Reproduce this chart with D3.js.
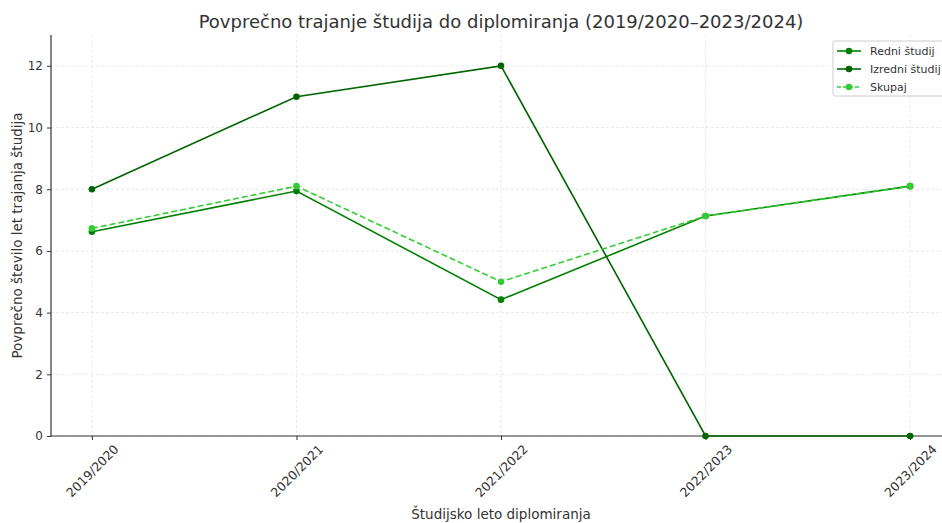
<!DOCTYPE html>
<html>
<head>
<meta charset="utf-8">
<script src="https://cdn.jsdelivr.net/npm/d3@7"></script>
<style>
  body { margin: 0; background: #fff; }
  text { font-family: "DejaVu Sans", sans-serif; fill: #333; }
</style>
</head>
<body>
<svg id="chart"></svg>
<script>
const years = ["2019/2020", "2020/2021", "2021/2022", "2022/2023", "2023/2024"];
const redni = [6.62, 7.94, 4.42, 7.13, 8.1];
const izredni = [8, 11, 12, 0, 0];
const skupaj = [6.73, 8.1, 5.0, 7.13, 8.1];
const yTicks = [0, 2, 4, 6, 8, 10, 12];

const width = 942, height = 523;
const marginLeft = 51, marginTop = 35, marginBottom = 87, plotRight = 951;

const svg = d3.select('#chart')
  .attr('width', width)
  .attr('height', height);

const x = d3.scaleLinear().domain([-0.2, 4.2]).range([marginLeft, plotRight]);
const y = d3.scaleLinear().domain([0, 13]).range([height - marginBottom, marginTop]);

// grid
svg.append('g').selectAll('line').data(yTicks).join('line')
  .attr('x1', marginLeft).attr('x2', plotRight)
  .attr('y1', d => y(d)).attr('y2', d => y(d))
  .style('stroke', '#e0e0e0').style('stroke-dasharray', '3,2').style('stroke-width', 0.7);
svg.append('g').selectAll('line').data(years).join('line')
  .attr('x1', (d, i) => x(i)).attr('x2', (d, i) => x(i))
  .attr('y1', marginTop).attr('y2', y(0))
  .style('stroke', '#e0e0e0').style('stroke-dasharray', '3,2').style('stroke-width', 0.7);

// axes
const yAxis = svg.append('g')
  .attr('transform', `translate(${marginLeft},0)`)
  .call(d3.axisLeft(y).tickValues(yTicks).tickSize(4).tickPadding(4));
yAxis.select('.domain').remove();
yAxis.selectAll('.tick line').style('stroke', '#333');
yAxis.selectAll('.tick text').style('font-size', '12px').style('fill', '#333');

const xAxis = svg.append('g')
  .attr('transform', `translate(0,${y(0)})`)
  .call(d3.axisBottom(x).tickValues(d3.range(years.length)).tickFormat(i => years[i]).tickSize(4));
xAxis.select('.domain').remove();
xAxis.selectAll('.tick line').style('stroke', '#333');
xAxis.selectAll('.tick text')
  .style('font-size', '12.5px').style('fill', '#333')
  .attr('text-anchor', 'middle')
  .attr('dy', '0.35em').attr('y', 0)
  .attr('transform', 'translate(0,35) rotate(-45)');

// spines
svg.append('line').attr('x1', marginLeft).attr('x2', marginLeft)
  .attr('y1', marginTop).attr('y2', y(0)).style('stroke', '#333').style('stroke-width', 1.2);
svg.append('line').attr('x1', marginLeft).attr('x2', plotRight)
  .attr('y1', y(0)).attr('y2', y(0)).style('stroke', '#333').style('stroke-width', 1.2);

// lines
const series = [
  { name: 'Redni študij', values: redni, color: '#008000', dash: null },
  { name: 'Izredni študij', values: izredni, color: '#006400', dash: null },
  { name: 'Skupaj', values: skupaj, color: '#32cd32', dash: '6,3' }
];
const line = d3.line().x((d, i) => x(i)).y(d => y(d));

series.forEach(s => {
  svg.append('path').datum(s.values)
    .attr('d', line)
    .style('fill', 'none').style('stroke', s.color).style('stroke-width', 1.6)
    .style('stroke-dasharray', s.dash);
  svg.append('g').selectAll('circle').data(s.values).join('circle')
    .attr('cx', (d, i) => x(i)).attr('cy', d => y(d)).attr('r', 3.3)
    .style('fill', s.color);
});

// title and labels
svg.append('text').attr('x', 501).attr('y', 28).attr('text-anchor', 'middle')
  .style('font-size', '18px').text('Povprečno trajanje študija do diplomiranja (2019/2020–2023/2024)');
svg.append('text').attr('x', 501).attr('y', 519).attr('text-anchor', 'middle')
  .style('font-size', '13.5px').text('Študijsko leto diplomiranja');
svg.append('text').attr('transform', `translate(22,${(marginTop + y(0)) / 2}) rotate(-90)`)
  .attr('text-anchor', 'middle').style('font-size', '13.5px')
  .text('Povprečno število let trajanja študija');

// legend
const lg = svg.append('g').attr('transform', 'translate(833,41)');
lg.append('rect').attr('width', 112).attr('height', 55).attr('rx', 2)
  .style('fill', '#fff').style('fill-opacity', 0.8).style('stroke', '#ccc');
series.forEach((s, i) => {
  const yy = 10 + i * 18;
  lg.append('line').attr('x1', 4).attr('x2', 28).attr('y1', yy).attr('y2', yy)
    .style('stroke', s.color).style('stroke-width', 1.6).style('stroke-dasharray', s.dash ? '4,2' : null);
  lg.append('circle').attr('cx', 16).attr('cy', yy).attr('r', 3.3).style('fill', s.color);
  lg.append('text').attr('x', 37).attr('y', yy + 4).style('font-size', '11px').text(s.name);
});
</script>
</body>
</html>
